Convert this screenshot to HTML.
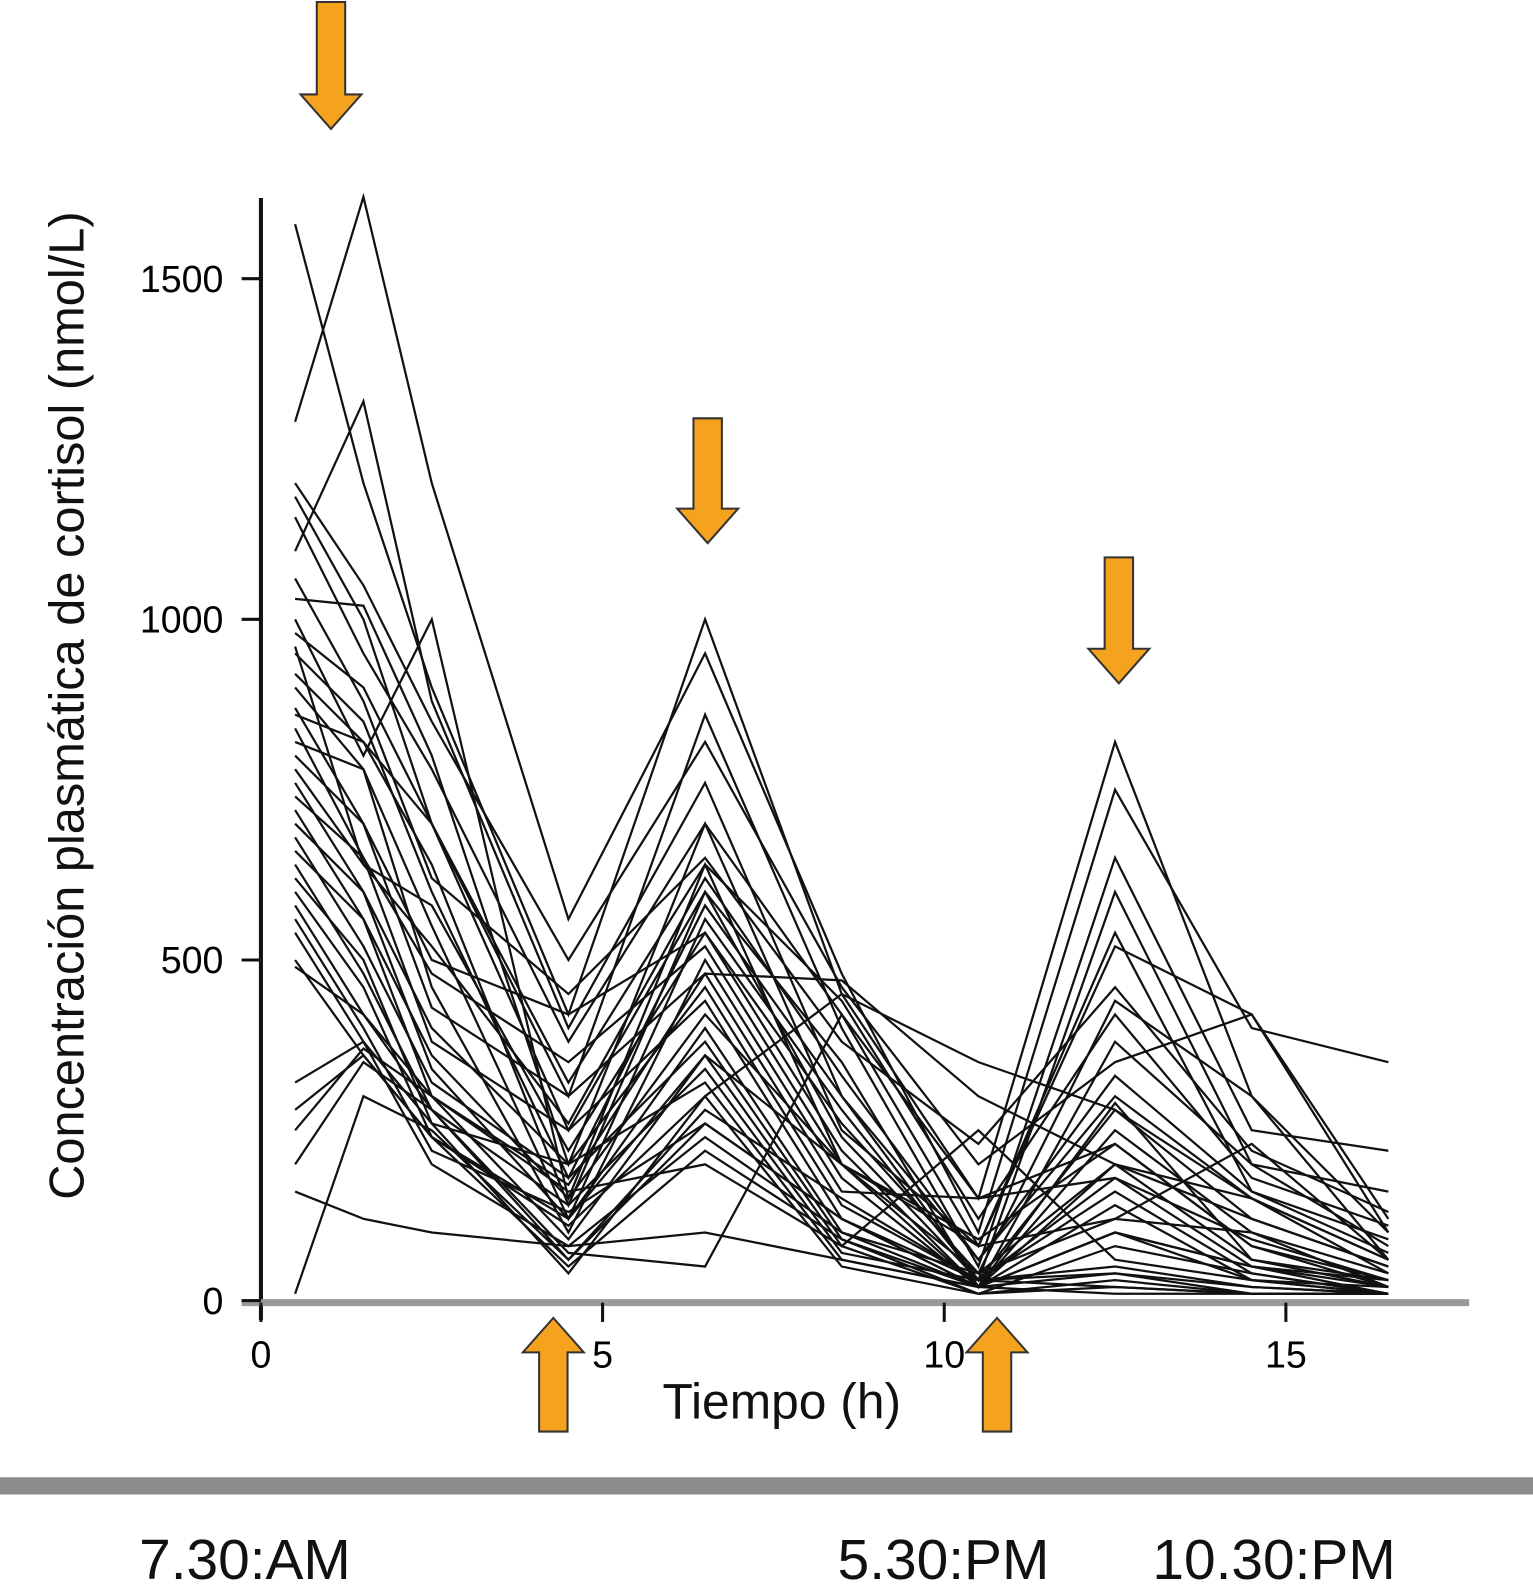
<!DOCTYPE html>
<html><head><meta charset="utf-8"><style>
html,body{margin:0;padding:0;background:#fff;}
svg{display:block;font-family:"Liberation Sans",Arial,sans-serif;}
</style></head><body>
<svg id="chart" width="1533" height="1592" viewBox="0 0 1533 1592" xmlns="http://www.w3.org/2000/svg">
<g transform="scale(1.0153)">
<g id="lines"></g>
<line x1="257" y1="195" x2="257" y2="1300" stroke="#111" stroke-width="4"/>
<line x1="238" y1="1283" x2="1447" y2="1283" stroke="#999" stroke-width="7"/>
<g id="ticks"></g>
<text x="-695" y="82" transform="rotate(-90)" text-anchor="middle" font-size="48" fill="#111">Concentración plasmática de cortisol (nmol/L)</text>
<text x="770" y="1397" text-anchor="middle" font-size="49" fill="#111">Tiempo (h)</text>
<g id="arrows"></g>
<rect x="0" y="1455" width="1533" height="17" fill="#8c8c8c"/>
<text x="137" y="1555" font-size="56" fill="#111">7.30:AM</text>
<text x="825" y="1555" font-size="56" fill="#111">5.30:PM</text>
<text x="1135" y="1555" font-size="56" fill="#111">10.30:PM</text>
</g>
</svg>
<script>
const times = [0.5,1.5,2.5,4.5,6.5,8.5,10.5,12.5,14.5,16.5];
const xTicks = [0,5,10,15];
const yTicks = [0,500,1000,1500];
const series = [
[1580,1200,900,420,1000,450,150,820,300,60],
[1290,1620,1200,560,950,480,100,750,400,350],
[1180,1000,700,300,860,400,50,650,250,220],
[1100,1320,880,400,760,300,30,600,200,160],
[1030,1020,800,200,700,250,80,520,420,120],
[1000,800,1000,150,640,200,40,440,300,100],
[980,900,700,250,600,350,20,380,200,80],
[950,850,600,180,580,300,60,300,150,60],
[900,780,550,120,560,280,30,280,120,50],
[870,700,500,420,540,220,20,250,100,40],
[840,650,480,350,520,200,90,230,80,30],
[820,780,460,100,500,180,20,200,60,20],
[800,700,430,300,480,160,150,180,50,30],
[760,600,400,200,460,140,30,160,40,10],
[740,650,380,250,440,120,20,140,30,10],
[720,560,360,150,420,200,80,120,100,20],
[700,600,340,120,400,100,20,100,50,10],
[680,520,320,180,380,90,10,80,40,10],
[660,560,300,90,360,80,250,60,30,10],
[640,480,280,140,340,70,30,50,20,10],
[620,500,260,200,320,60,20,40,20,10],
[600,460,240,110,300,50,10,30,10,10],
[580,420,280,60,280,150,30,20,10,10],
[560,400,220,130,260,120,20,290,60,30],
[540,380,200,80,240,100,40,200,150,40],
[500,360,240,50,220,90,20,100,50,20],
[490,420,300,160,200,80,10,20,10,10],
[320,380,260,40,300,450,350,280,150,60],
[280,360,240,120,360,200,20,100,30,20],
[250,370,300,170,480,470,300,200,120,50],
[200,350,280,70,50,420,150,230,80,20],
[160,120,100,80,100,60,20,10,10,10],
[10,300,250,60,260,120,30,40,10,10],
[1200,1050,850,500,820,460,200,350,420,100],
[1150,950,780,380,700,420,80,540,160,90],
[1060,880,620,450,650,380,230,460,220,130],
[920,820,700,320,640,440,120,420,180,110],
[780,640,520,260,620,330,60,330,160,70],
[960,640,580,220,540,260,40,120,230,60],
[860,820,640,140,600,240,30,180,90,30]
];
const NS="http://www.w3.org/2000/svg";
function xs(t){return 257+t*67.3;}
function ys(v){return 1281-v*0.671;}
const lg=document.getElementById('lines');
series.forEach((s,i)=>{
  const p=document.createElementNS(NS,'polyline');
  p.setAttribute('points',s.map((v,j)=>xs(times[j])+','+ys(v)).join(' '));
  p.setAttribute('fill','none');p.setAttribute('stroke','#111');p.setAttribute('stroke-width','2.2');
  
  
  lg.appendChild(p);
});
const tg=document.getElementById('ticks');
xTicks.forEach(t=>{
  const l=document.createElementNS(NS,'line');
  l.setAttribute('x1',xs(t));l.setAttribute('x2',xs(t));l.setAttribute('y1',1283);l.setAttribute('y2',1302);
  l.setAttribute('stroke','#111');l.setAttribute('stroke-width','3');
  
  
  tg.appendChild(l);
  const tx=document.createElementNS(NS,'text');
  tx.setAttribute('x',xs(t));tx.setAttribute('y',1347);tx.setAttribute('text-anchor','middle');tx.setAttribute('font-size','37');
  tx.textContent=t;
  
  
  tg.appendChild(tx);
});
yTicks.forEach(v=>{
  const l=document.createElementNS(NS,'line');
  l.setAttribute('x1',238);l.setAttribute('x2',257);l.setAttribute('y1',ys(v));l.setAttribute('y2',ys(v));
  l.setAttribute('stroke','#111');l.setAttribute('stroke-width','3');
  
  
  tg.appendChild(l);
  const tx=document.createElementNS(NS,'text');
  tx.setAttribute('x',220);tx.setAttribute('y',ys(v)+13);tx.setAttribute('text-anchor','end');tx.setAttribute('font-size','37');
  tx.textContent=v;
  
  
  tg.appendChild(tx);
});
const ag=document.getElementById('arrows');
function arrow(cx,y0,y1,down){
  const hw=30,sw=14,hh=34;
  let pts;
  if(down){pts=[[cx-sw,y0],[cx+sw,y0],[cx+sw,y1-hh],[cx+hw,y1-hh],[cx,y1],[cx-hw,y1-hh],[cx-sw,y1-hh]];}
  else{pts=[[cx-sw,y1],[cx+sw,y1],[cx+sw,y0+hh],[cx+hw,y0+hh],[cx,y0],[cx-hw,y0+hh],[cx-sw,y0+hh]];}
  const p=document.createElementNS(NS,'polygon');
  p.setAttribute('points',pts.map(q=>q.join(',')).join(' '));
  p.setAttribute('fill','#f5a21e');p.setAttribute('stroke','#333');p.setAttribute('stroke-width','2');
  
  
  ag.appendChild(p);
}
arrow(326,2,127,true);
arrow(697,412,535,true);
arrow(1102,549,673,true);
arrow(545,1298,1410,false);
arrow(982,1298,1410,false);
</script>
</body></html>
